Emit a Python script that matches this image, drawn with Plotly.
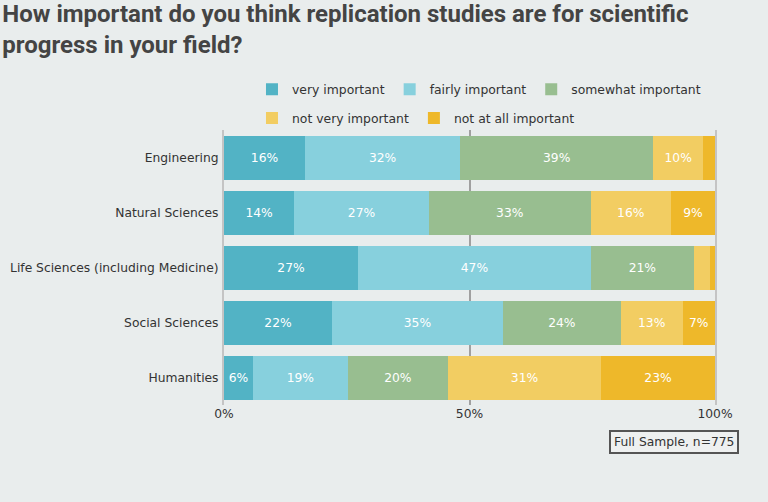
import plotly.graph_objects as go

fields = ['Engineering', 'Natural Sciences', 'Life Sciences (including Medicine)',
          'Social Sciences', 'Humanities']
answers = ['very important', 'fairly important', 'somewhat important',
           'not very important', 'not at all important']

very = [16.5, 14.3, 27.3, 22.0, 5.9]
fairly = [31.6, 27.4, 47.4, 34.8, 19.3]
somewhat = [39.3, 33.0, 21.0, 24.0, 20.4]
not_very = [10.2, 16.3, 3.3, 12.6, 31.2]
not_at_all = [2.4, 9.0, 1.0, 6.6, 23.2]

tick_vals = [0, 50, 100]
tick_text = ['0%', '50%', '100%']

colors = ['#52b3c5', '#87d0dd', '#98be90', '#f2cd62', '#eeb82a']
font = 'DejaVu Sans'

fig = go.Figure()
series = [very, fairly, somewhat, not_very, not_at_all]
for i, (name, vals, col) in enumerate(zip(answers, series, colors)):
    labels = ['%d%%' % round(v) if v >= 5 else '' for v in vals]
    fig.add_trace(go.Bar(
        y=fields, x=vals, name=name, orientation='h',
        marker=dict(color=col, line=dict(width=0)),
        text=labels, textposition='inside', insidetextanchor='middle',
        textfont=dict(color='white', size=12.3, family=font),
        hoverinfo='x+name',
        legend='legend' if i < 3 else 'legend2'
    ))

legend_style = dict(
    orientation='h', xanchor='left', yanchor='middle',
    font=dict(family=font, size=12.4, color='#333333'),
    traceorder='normal', bgcolor='rgba(0,0,0,0)'
)

fig.update_layout(
    barmode='stack',
    bargap=0.2,
    width=768, height=502,
    paper_bgcolor='#e9eded', plot_bgcolor='#e9eded',
    margin=dict(l=224, r=53, t=130, b=97),
    title=dict(
        text='How important do you think replication studies are for scientific<br>progress in your field?',
        x=0.003, xref='container', xanchor='left',
        y=0.956, yref='container', yanchor='top',
        font=dict(family='Roboto', size=24, color='#444444', weight='bold')
    ),
    legend=dict(legend_style, x=0.057, y=1.147),
    legend2=dict(legend_style, x=0.057, y=1.042),
    xaxis=dict(
        range=[0, 100], tickvals=tick_vals, ticktext=tick_text,
        showgrid=True, gridcolor='#a0a0a0', gridwidth=2, zeroline=False,
        tickfont=dict(family=font, size=12.3, color='#333333'),
        fixedrange=True, automargin=False
    ),
    yaxis=dict(
        autorange='reversed', showgrid=False, automargin=False,
        showline=True, mirror=True, linecolor='#c4c4c4', linewidth=2,
        tickfont=dict(family=font, size=12.3, color='#333333'),
        ticks='outside', ticklen=1, tickcolor='rgba(0,0,0,0)'
    ),
    annotations=[dict(
        text='Full Sample, n=775', xref='paper', yref='paper',
        x=0.9175, y=-0.136, xanchor='center', yanchor='middle',
        showarrow=False, font=dict(family=font, size=12.3, color='#333333'),
        bordercolor='#555555', borderwidth=2, borderpad=3, bgcolor='#eef0f0'
    )]
)

fig.write_html('out.html', config={'displayModeBar': False},
               post_script="document.body.style.margin='0';")
